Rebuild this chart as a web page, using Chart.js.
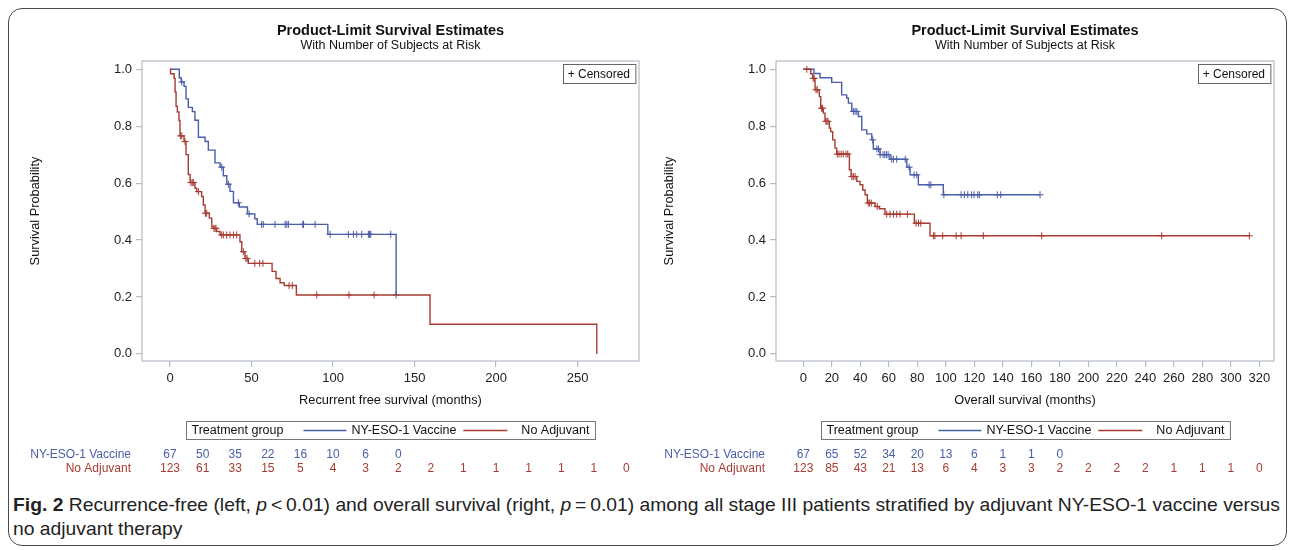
<!DOCTYPE html>
<html>
<head>
<meta charset="utf-8">
<script src="https://cdn.jsdelivr.net/npm/chart.js@4.4.1/dist/chart.umd.min.js"></script>
<style>
  body { margin: 0; background: #fff; width: 1292px; height: 550px; overflow: hidden; position: relative; }
  .frame { position: absolute; left: 8px; top: 8px; width: 1277px; height: 536px; border: 1.5px solid #4a4a4a; border-radius: 14px; }
  .panel { position: absolute; top: 0; width: 646px; height: 485px; }
  #caption { position: absolute; left: 13px; top: 493px; font-family: "Liberation Sans Narrow", "Liberation Sans", sans-serif;
             font-size: 18.5px; line-height: 24px; color: #222; white-space: nowrap; transform-origin: 0 0; }
</style>
</head>
<body>
<div class="frame"></div>
<div class="panel" style="left:0"><canvas id="rfs"></canvas></div>
<div class="panel" style="left:646px"><canvas id="os"></canvas></div>
<div id="caption"><b>Fig. 2</b> Recurrence-free (left, <i>p</i>&thinsp;&lt;&thinsp;0.01) and overall survival (right, <i>p</i>&thinsp;=&thinsp;0.01) among all stage III patients stratified by adjuvant NY-ESO-1 vaccine versus<br>no adjuvant therapy</div>
<script>
// colours
const BLUE = '#4a5da9';
const RED = '#a83c32';
const FRAME = '#b5bcc7';

// recurrence-free survival (left), months
const rfsVacTime = [0, 5.7, 6.8, 8.6, 9.8, 11.2, 13.7, 15.3, 17.4, 21.5, 23.5, 27.6, 30.7, 32.7, 34.8, 36.8, 38.9, 42.5, 47.5, 52, 53.5, 96.8, 138.7];
const rfsVacSurv = [1, 0.97, 0.955, 0.94, 0.896, 0.866, 0.851, 0.821, 0.761, 0.746, 0.716, 0.671, 0.656, 0.626, 0.596, 0.571, 0.531, 0.516, 0.492, 0.475, 0.455, 0.42, 0.207];
const rfsVacCens = [7.2, 31.7, 35.8, 41.9, 48.5, 56.2, 57.2, 64.4, 70.6, 71.6, 72.6, 81.4, 81.9, 89, 98.2, 109.4, 112.5, 114.5, 117.6, 121.7, 122.4, 123.1, 135.4, 138.7];
const rfsNoTime = [0, 0.3, 2.5, 3.1, 3.7, 4.5, 5.5, 6.1, 8.6, 9.8, 11.2, 12.3, 15.3, 16.4, 19.4, 20.4, 21.5, 24.1, 25.6, 26.6, 28.6, 30.7, 42.9, 44, 46, 48, 62.6, 65, 67.5, 70, 77.5, 159.5, 261.8];
const rfsNoSurv = [1, 0.984, 0.968, 0.92, 0.87, 0.85, 0.82, 0.766, 0.746, 0.70, 0.63, 0.602, 0.582, 0.57, 0.553, 0.523, 0.494, 0.477, 0.447, 0.441, 0.43, 0.418, 0.394, 0.359, 0.335, 0.318, 0.29, 0.265, 0.25, 0.24, 0.207, 0.104, 0];
const rfsNoCens = [6.5, 7.2, 9.2, 12.8, 13.6, 14.3, 17.4, 21.8, 22.5, 26.9, 27.6, 28.2, 31.7, 32.7, 34.8, 36.8, 38.9, 40.9, 45, 46.5, 47.3, 52, 55, 57, 73, 75, 90, 109.8, 125.2];
const rfsTicks = [0, 50, 100, 150, 200, 250];
const rfsRiskVac = [67, 50, 35, 22, 16, 10, 6, 0];
const rfsRiskNo = [123, 61, 33, 15, 5, 4, 3, 2, 2, 1, 1, 1, 1, 1, 0];

// overall survival (right), months
const osVacTime = [0, 7.5, 11.7, 19.9, 26.9, 30.4, 31.6, 34, 38.6, 41, 44.5, 48, 49.1, 53.8, 60.8, 72.6, 74.9, 80.7, 98.2, 166.1];
const osVacSurv = [1, 0.985, 0.97, 0.954, 0.91, 0.899, 0.881, 0.852, 0.834, 0.787, 0.773, 0.752, 0.72, 0.70, 0.684, 0.656, 0.629, 0.594, 0.559, 0.559];
const osVacCens = [35.1, 36.3, 37.5, 48.7, 51.6, 52.7, 53.9, 55.9, 57.1, 58.3, 59.5, 62, 63.2, 65.5, 71.5, 74.2, 77.7, 79.6, 88.2, 89.4, 98.6, 110.7, 113, 115.4, 118.1, 119.8, 122.4, 123.5, 136.1, 138.5, 166.1];
const osNoTime = [0, 5.2, 6.6, 8.2, 11.2, 12.2, 14, 15.2, 18.2, 19.2, 20.6, 22.2, 23.4, 32.3, 33.5, 37.5, 39.8, 41.7, 43.3, 44.9, 50.3, 53.3, 57.3, 77.9, 88.9, 313];
const osNoSurv = [1, 0.984, 0.968, 0.928, 0.904, 0.863, 0.846, 0.817, 0.793, 0.781, 0.752, 0.723, 0.702, 0.647, 0.623, 0.606, 0.594, 0.576, 0.559, 0.53, 0.518, 0.51, 0.491, 0.459, 0.415, 0.415];
const osNoCens = [2.4, 6.9, 7.6, 8.9, 9.8, 12.8, 13.5, 15.8, 16.5, 17.3, 23.8, 25, 26.5, 28, 30, 31.2, 34, 35.1, 36.3, 45.5, 46.5, 47.7, 51.8, 58.5, 60.8, 63.2, 65.5, 67.8, 73, 79.1, 80.8, 82.4, 91.3, 92.3, 97.8, 107.2, 110.7, 126.3, 167.3, 251.5, 313];
const osTicks = [0, 20, 40, 60, 80, 100, 120, 140, 160, 180, 200, 220, 240, 260, 280, 300, 320];
const osRiskVac = [67, 65, 52, 34, 20, 13, 6, 1, 1, 0];
const osRiskNo = [123, 85, 43, 21, 13, 6, 4, 3, 3, 2, 2, 2, 2, 1, 1, 1, 0];

const yTicks = [0, 0.2, 0.4, 0.6, 0.8, 1.0];
const groups = ['NY-ESO-1 Vaccine', 'No Adjuvant'];

const FONT = '"Liberation Sans", Arial, sans-serif';

function survAt(times, surv, t) {
  let s = surv[0];
  for (let i = 0; i < times.length; i++) if (times[i] <= t) s = surv[i];
  return s;
}
const pts = (times, surv) => times.map((t, i) => ({x: t, y: surv[i]}));
const cens = (c, times, surv) => c.map(t => ({x: t, y: survAt(times, surv, t)}));

const kmPlugin = {
  id: 'km',
  beforeDatasetsDraw(chart) {
    const {ctx, chartArea: a} = chart;
    ctx.save();
    ctx.strokeStyle = FRAME;
    ctx.lineWidth = 1.2;
    ctx.strokeRect(a.left, a.top, a.right - a.left, a.bottom - a.top);
    ctx.restore();
  },
  afterDraw(chart, args, o) {
    const {ctx, chartArea: a} = chart;
    const cx = (a.left + a.right) / 2;
    const x = chart.scales.x;
    ctx.save();
    ctx.fillStyle = '#111';
    ctx.textAlign = 'center';
    ctx.textBaseline = 'middle';
    ctx.font = 'bold 14.5px ' + FONT;
    ctx.fillText('Product-Limit Survival Estimates', cx, 31);
    ctx.font = '12.5px ' + FONT;
    ctx.fillText('With Number of Subjects at Risk', cx, 46);

    ctx.font = '12.8px ' + FONT;
    ctx.fillText(o.xTitle, cx, 400);
    ctx.save();
    ctx.translate(a.left - 107, (a.top + a.bottom) / 2);
    ctx.rotate(-Math.PI / 2);
    ctx.fillText('Survival Probability', 0, 0);
    ctx.restore();

    // censored box
    ctx.font = '12px ' + FONT;
    const cw = ctx.measureText('+ Censored').width + 10;
    ctx.strokeStyle = '#666';
    ctx.lineWidth = 1;
    ctx.strokeRect(Math.round(a.right - 4 - cw) + 0.5, a.top + 3.5, cw, 19);
    ctx.textAlign = 'left';
    ctx.fillText('+ Censored', a.right - 4 - cw + 5, a.top + 13.5);

    // group legend
    ctx.font = '12.5px ' + FONT;
    const t1 = 'Treatment group';
    const w1 = ctx.measureText(t1).width, w2 = ctx.measureText(groups[0]).width, w3 = ctx.measureText(groups[1]).width;
    const bw = 5 + w1 + 20 + 43 + 5 + w2 + 7 + 44 + 14 + w3 + 6;
    let bx = Math.round(cx - bw / 2) + 0.5;
    const by = 421.5, bh = 18, ty = by + bh / 2;
    ctx.strokeStyle = '#777';
    ctx.strokeRect(bx, by, bw, bh);
    let px = bx + 5;
    ctx.fillText(t1, px, ty); px += w1 + 20;
    ctx.lineWidth = 1.3;
    ctx.strokeStyle = BLUE;
    ctx.beginPath(); ctx.moveTo(px, ty); ctx.lineTo(px + 43, ty); ctx.stroke(); px += 48;
    ctx.fillText(groups[0], px, ty); px += w2 + 7;
    ctx.strokeStyle = RED;
    ctx.beginPath(); ctx.moveTo(px, ty); ctx.lineTo(px + 44, ty); ctx.stroke(); px += 58;
    ctx.fillText(groups[1], px, ty);

    // number at risk
    ctx.font = '12px ' + FONT;
    const rows = [[o.riskVac, BLUE, 455], [o.riskNo, RED, 469]];
    rows.forEach(([vals, col, yy], gi) => {
      ctx.fillStyle = col;
      ctx.textAlign = 'right';
      ctx.fillText(groups[gi], a.left - 11, yy);
      ctx.textAlign = 'center';
      vals.forEach((v, i) => ctx.fillText(String(v), x.getPixelForValue(i * o.riskStep), yy));
    });
    ctx.restore();
  }
};

function kmChart(id, d) {
  return new Chart(document.getElementById(id), {
    type: 'line',
    data: {
      datasets: [
        {data: pts(d.noTime, d.noSurv), borderColor: RED, borderWidth: 1.4, stepped: 'before', pointRadius: 0, fill: false},
        {type: 'scatter', data: cens(d.noCens, d.noTime, d.noSurv), pointStyle: 'cross', pointRadius: 3.5, borderColor: RED, borderWidth: 1},
        {data: pts(d.vacTime, d.vacSurv), borderColor: BLUE, borderWidth: 1.4, stepped: 'before', pointRadius: 0, fill: false},
        {type: 'scatter', data: cens(d.vacCens, d.vacTime, d.vacSurv), pointStyle: 'cross', pointRadius: 3.5, borderColor: BLUE, borderWidth: 1},
      ]
    },
    options: {
      responsive: false,
      animation: false,
      devicePixelRatio: 1,
      layout: {padding: {left: 0, right: d.padRight, top: 61, bottom: 0}},
      plugins: {
        legend: {display: false},
        tooltip: {enabled: false},
        km: {xTitle: d.xTitle, riskVac: d.riskVac, riskNo: d.riskNo, riskStep: d.riskStep},
      },
      scales: {
        x: {
          type: 'linear', min: d.xMin, max: d.xMax,
          afterBuildTicks: s => { s.ticks = d.ticks.map(v => ({value: v})); },
          afterFit: s => { s.height = 124; },
          grid: {drawOnChartArea: false, drawTicks: true, tickLength: 6, color: FRAME, lineWidth: 1.2},
          border: {display: false},
          ticks: {font: {family: FONT, size: 13}, color: '#222', padding: 4, maxRotation: 0, autoSkip: false},
        },
        y: {
          min: -0.025, max: 1.029,
          afterBuildTicks: s => { s.ticks = yTicks.map(v => ({value: v})); },
          afterFit: s => { s.width = d.left; },
          grid: {drawOnChartArea: false, drawTicks: true, tickLength: 6, color: FRAME, lineWidth: 1.2},
          border: {display: false},
          ticks: {font: {family: FONT, size: 13}, color: '#222', padding: 4, callback: v => v.toFixed(1)},
        }
      }
    },
    plugins: [kmPlugin]
  });
}

for (const c of document.querySelectorAll('canvas')) { c.width = 646; c.height = 485; }

kmChart('rfs', {
  vacTime: rfsVacTime, vacSurv: rfsVacSurv, vacCens: rfsVacCens,
  noTime: rfsNoTime, noSurv: rfsNoSurv, noCens: rfsNoCens,
  ticks: rfsTicks, riskVac: rfsRiskVac, riskNo: rfsRiskNo, riskStep: 20,
  xMin: -17.2, xMax: 287.7, left: 142, padRight: 7,
  xTitle: 'Recurrent free survival (months)'
});
kmChart('os', {
  vacTime: osVacTime, vacSurv: osVacSurv, vacCens: osVacCens,
  noTime: osNoTime, noSurv: osNoSurv, noCens: osNoCens,
  ticks: osTicks, riskVac: osRiskVac, riskNo: osRiskNo, riskStep: 20,
  xMin: -19.2, xMax: 330.3, left: 130, padRight: 18,
  xTitle: 'Overall survival (months)'
});

// fit caption width to the reference line length
const cap = document.getElementById('caption');
const w = cap.getBoundingClientRect().width;
cap.style.transform = 'scaleX(' + (1267 / w) + ')';
</script>
</body>
</html>
